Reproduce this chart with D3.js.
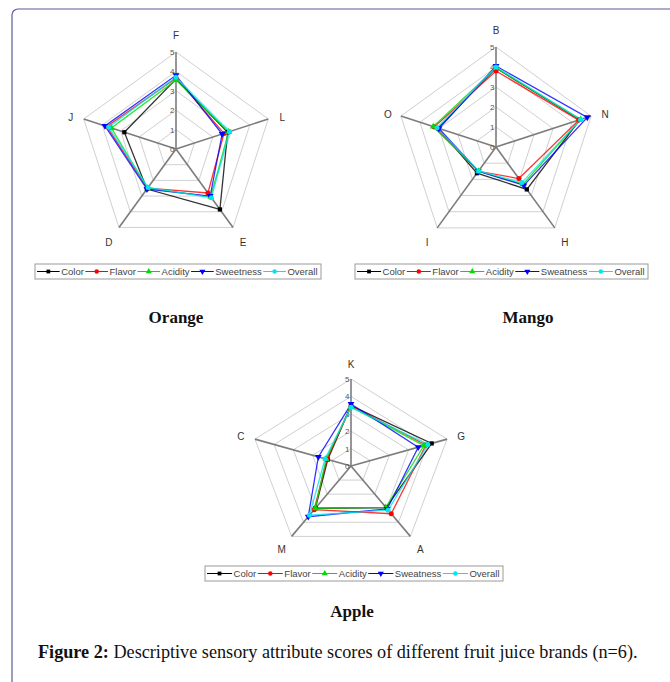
<!DOCTYPE html>
<html><head><meta charset="utf-8">
<script src="https://cdn.jsdelivr.net/npm/d3@7"></script>
<style>body{margin:0;background:#fff}svg{display:block}</style>
</head><body>
<svg id="c" width="670" height="682"></svg>
<script>
const seriesNames = ["Color","Flavor","Acidity","Sweetness","Overall"];
const seriesNamesAlt = ["Color","Flavor","Acidity","Sweatness","Overall"];
const seriesColors = ["#000000","#ff0000","#00dd00","#0000ff","#00e5ee"];
const seriesShapes = ["square","circle","triangle","triangleDown","circle"];
const ticks = [0,1,2,3,4,5];

const orangeAxes = ["F","L","E","D","J"];
const orangeColor     = [3.6, 2.8, 3.85, 2.55, 2.8];
const orangeFlavor    = [3.65,2.6, 2.8, 2.5, 3.75];
const orangeAcidity   = [3.55,2.85,3.05,2.5, 3.5];
const orangeSweetness = [3.8, 2.5, 3.0, 2.55, 3.85];
const orangeOverall   = [3.7, 2.9, 3.1, 2.45, 3.65];

const mangoAxes = ["B","N","H","I","O"];
const mangoColor     = [3.95,4.4, 2.62,1.62,3.05];
const mangoFlavor    = [3.8, 4.35,1.95,1.5, 3.25];
const mangoAcidity   = [3.95,4.45,2.3, 1.5, 3.3];
const mangoSweetness = [4.05,4.8, 2.37,1.5, 3.0];
const mangoOverall   = [4.0, 4.45,2.2, 1.48,3.1];

const appleAxes = ["K","G","A","M","C"];
const appleColor     = [3.47,4.2, 2.95,3.0, 1.21];
const appleFlavor    = [3.45,3.9, 3.39,3.1, 1.25];
const appleAcidity   = [3.4, 3.8, 2.94,3.0, 1.3];
const appleSweetness = [3.56,3.5, 3.05,3.6, 1.7];
const appleOverall   = [3.37,4.0, 3.13,3.5, 1.35];

const svg = d3.select("#c");

// frame
svg.append("rect").attr("x",12).attr("y",9).attr("width",700).attr("height",720)
  .attr("rx",6).attr("fill","none").attr("stroke","#5a5a96").attr("stroke-width",1.2);

function marker(g, shape, x, y, color, k){
  k = k||1;
  const sym = {square:d3.symbolSquare, circle:d3.symbolCircle, triangle:d3.symbolTriangle, triangleDown:d3.symbolTriangle}[shape];
  const size = (shape==="circle"?20:(shape==="square"?18:20))*k;
  g.append("path").attr("d", d3.symbol().type(sym).size(size)())
    .attr("transform", `translate(${x},${y})` + (shape==="triangleDown"?" rotate(180)":""))
    .attr("fill", color);
}

function radar(cfg){
  const g = svg.append("g");
  const n = cfg.axes.length;
  const angle = i => -Math.PI/2 + i*2*Math.PI/n;
  const rx = d3.scaleLinear().domain([0,5]).range([0,cfg.rx]);
  const ry = d3.scaleLinear().domain([0,5]).range([0,cfg.ry]);
  const pt = (i,v) => [cfg.cx + rx(v)*Math.cos(angle(i)), cfg.cy + ry(v)*Math.sin(angle(i))];
  // rings
  ticks.slice(1).forEach(t=>{
    g.append("polygon").attr("points", d3.range(n).map(i=>pt(i,t).join(",")).join(" "))
      .attr("fill","none").attr("stroke","#d0d0d0").attr("stroke-width",1);
  });
  // spokes
  d3.range(n).forEach(i=>{
    const p = pt(i,5);
    g.append("line").attr("x1",cfg.cx).attr("y1",cfg.cy).attr("x2",p[0]).attr("y2",p[1])
      .attr("stroke","#7c7c7c").attr("stroke-width",1.6);
  });
  // tick labels
  ticks.forEach(t=>{
    const p = pt(0,t);
    g.append("text").attr("x",p[0]-1.5).attr("y",p[1]+3).attr("text-anchor","end")
      .attr("font-family","Liberation Sans, Arial, sans-serif").attr("font-size",8).attr("fill","#555").text(t);
  });
  // axis labels
  cfg.axes.forEach((a,i)=>{
    const off = cfg.labelOff[i];
    const p = pt(i,5);
    g.append("text").attr("x",p[0]+off[0]).attr("y",p[1]+off[1]).attr("text-anchor","middle")
      .attr("dominant-baseline","central")
      .attr("font-family","Liberation Sans, Arial, sans-serif").attr("font-size",10).attr("fill","#333").text(a);
  });
  // series
  const line = d3.line().curve(d3.curveLinearClosed);
  cfg.series.forEach((vals,s)=>{
    const pts = vals.map((v,i)=>pt(i,v));
    g.append("path").attr("d",line(pts)).attr("fill","none").attr("stroke",seriesColors[s])
      .attr("stroke-width",1.3).attr("stroke-opacity",0.8);
  });
  cfg.series.forEach((vals,s)=>{
    vals.forEach((v,i)=>{ const p=pt(i,v); marker(g, seriesShapes[s], p[0], p[1], seriesColors[s]); });
  });
  // legend
  const L = cfg.legend;
  const lg = svg.append("g");
  lg.append("rect").attr("x",L.x0).attr("y",L.y).attr("width",L.x1-L.x0).attr("height",15)
    .attr("fill","#fff").attr("stroke","#9a9a9a").attr("stroke-width",1);
  const texts = cfg.names.map(nm=>lg.append("text").attr("font-family","Liberation Sans, Arial, sans-serif")
    .attr("font-size",9.5).attr("fill","#444").attr("y",L.y+11).text(nm));
  const widths = texts.map(t=>t.node().getComputedTextLength());
  const gap = 1.5;
  const lineLen = ((L.x1-L.x0) - 4 - d3.sum(widths) - gap*2*n)/n;
  let x = L.x0+2;
  texts.forEach((t,s)=>{
    const ly = L.y+7.5;
    lg.append("line").attr("x1",x).attr("x2",x+lineLen).attr("y1",ly).attr("y2",ly)
      .attr("stroke",seriesColors[s]).attr("stroke-width",1);
    marker(lg, seriesShapes[s], x+lineLen/2, ly, seriesColors[s], 0.8);
    x += lineLen+gap;
    t.attr("x",x);
    x += widths[s]+gap;
  });
  // title
  svg.append("text").attr("x",cfg.tx).attr("y",cfg.ty).attr("text-anchor","middle")
    .attr("font-family","Liberation Serif, Times New Roman, serif").attr("font-weight","bold")
    .attr("font-size",17).attr("fill","#111").text(cfg.title);
}

const offs = [[0,-17],[14,-2],[10,15],[-10,15],[-13,-2]];

radar({cx:176, cy:149, rx:97, ry:97, axes:orangeAxes, labelOff:offs,
  series:[orangeColor,orangeFlavor,orangeAcidity,orangeSweetness,orangeOverall],
  names:seriesNames, legend:{x0:35,x1:321,y:264}, title:"Orange", tx:176, ty:323});

radar({cx:496, cy:147, rx:100, ry:100, axes:mangoAxes, labelOff:offs,
  series:[mangoColor,mangoFlavor,mangoAcidity,mangoSweetness,mangoOverall],
  names:seriesNamesAlt, legend:{x0:355,x1:648,y:264}, title:"Mango", tx:528, ty:323});

radar({cx:351, cy:466, rx:101, ry:87, axes:appleAxes, labelOff:[[0,-15],[14,-3],[10,13],[-10,13],[-14,-3]],
  series:[appleColor,appleFlavor,appleAcidity,appleSweetness,appleOverall],
  names:seriesNamesAlt, legend:{x0:205,x1:503,y:566}, title:"Apple", tx:352, ty:617});

// caption
const cap = svg.append("text").attr("x",38).attr("y",658)
  .attr("font-family","Liberation Serif, Times New Roman, serif").attr("font-size",18.2).attr("fill","#111");
cap.append("tspan").attr("font-weight","bold").text("Figure 2:");
cap.append("tspan").text(" Descriptive sensory attribute scores of different fruit juice brands (n=6).");
</script>
</body></html>
